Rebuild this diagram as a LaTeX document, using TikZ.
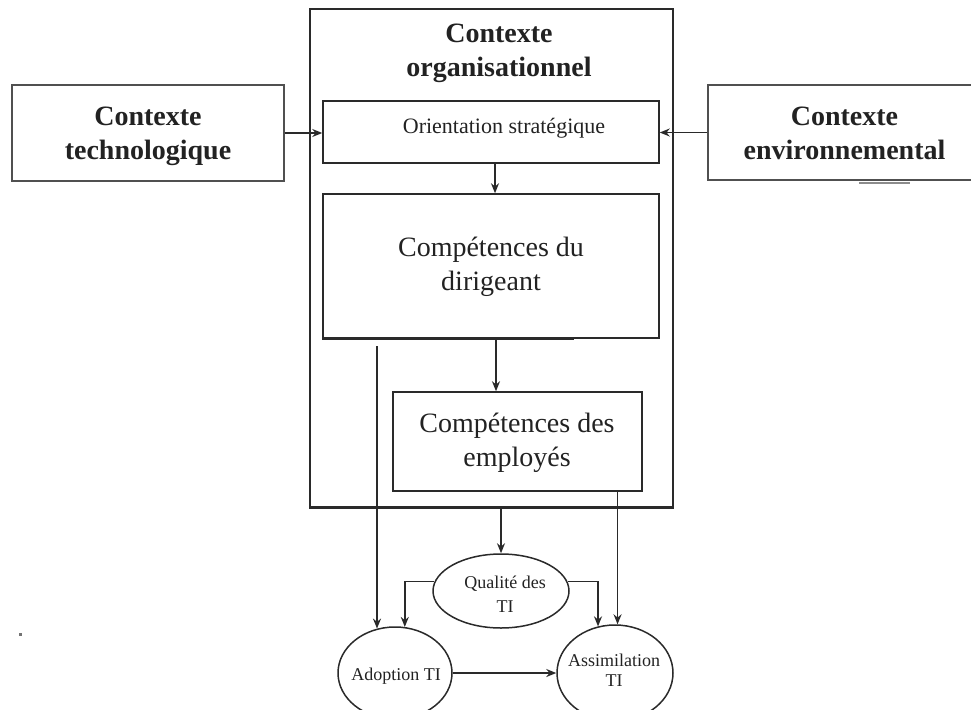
\documentclass[tikz,border=0pt]{standalone}
\usepackage{fontspec}
\setmainfont{Liberation Serif}
\usetikzlibrary{arrows.meta,shapes.geometric}
\definecolor{linec}{HTML}{2A2A2A}
\definecolor{softline}{HTML}{505050}
\definecolor{textc}{HTML}{222222}
\begin{document}
\begin{tikzpicture}[x=1pt,y=-1pt,
  frame/.style={draw=linec, line width=1.5pt, rectangle, inner sep=0pt},
  sideframe/.style={draw=softline, line width=1.4pt, rectangle, inner sep=0pt},
  oval/.style={draw=linec, line width=1.5pt, ellipse, inner sep=0pt},
  link/.style={draw=linec, line width=1.6pt},
  arr/.style={link, -{Stealth[length=10pt,width=8pt]}},
  ctxlabel/.style={font=\fontsize{28}{34}\selectfont\bfseries, align=center, text=textc, inner sep=0pt},
  boxlabel/.style={font=\fontsize{28}{34}\selectfont, align=center, text=textc, inner sep=0pt},
  smalllabel/.style={font=\fontsize{22}{26}\selectfont, align=center, text=textc, inner sep=0pt},
  ovallabel/.style={font=\fontsize{18}{22}\selectfont, align=center, text=textc, inner sep=0pt}]
\useasboundingbox (0,0) rectangle (971,709);
\clip (0,0) rectangle (971,709);

% outer frame of the organisational context
\node[frame, minimum width=363pt, minimum height=498pt] (org) at (491.5,258) {};
\node[ctxlabel] (orgtitle) at (499,53) {Contexte\\organisationnel};

% side contexts
\node[sideframe, minimum width=272pt, minimum height=96pt] (tech) at (148,133) {};
\node[ctxlabel] (techtxt) at (148,136) {Contexte\\technologique};
\node[sideframe, minimum width=273pt, minimum height=95pt] (env) at (844.5,132.5) {};
\node[ctxlabel] (envtxt) at (844.5,133) {Contexte\\environnemental};

% inner boxes
\node[frame, minimum width=336pt, minimum height=62pt] (orient) at (491,132) {};
\node[smalllabel] (orienttxt) at (504,128) {Orientation stratégique};
\node[frame, minimum width=336pt, minimum height=144pt] (dir) at (491,266) {};
\node[boxlabel] (dirtxt) at (491,267) {Compétences du\\dirigeant};
\node[frame, minimum width=249pt, minimum height=99pt] (emp) at (517.5,441.5) {};
\node[boxlabel] (emptxt) at (517,442.5) {Compétences des\\employés};

% heavier bottom edges
\draw[linec, line width=2.2pt] (org.south west) -- (org.south east);
\draw[linec, line width=2.1pt] (dir.south west) -- ([xshift=-86pt]dir.south east);

% outcome ellipses
\node[oval, minimum width=136pt, minimum height=74pt] (qual) at (501,591) {};
\node[ovallabel, font=\fontsize{18}{24}\selectfont] (qualtxt) at (505,594) {Qualité des\\TI};
\node[oval, minimum width=114pt, minimum height=92pt] (adop) at (395,673) {};
\node[ovallabel] (adoptxt) at (396,676) {Adoption TI};
\node[oval, minimum width=116pt, minimum height=96pt] (assim) at (615,673) {};
\node[ovallabel, font=\fontsize{18}{20}\selectfont] (assimtxt) at (614,670) {Assimilation\\TI};

% connectors
\coordinate (orientout) at ([xshift=4pt]orient.south);
\coordinate (dirout) at ([xshift=5pt]dir.south);
\coordinate (dirleg) at (377,346);
\draw[arr] (tech.east) -- (tech.east -| orient.west);
\draw[arr] (env.west) -- (env.west -| orient.east);
\draw[arr] (orientout) -- (orientout |- dir.north);
\draw[arr] (dirout) -- (dirout |- emp.north);
\draw[arr] (org.south -| qual.north) -- (qual.north);
\draw[arr] (dirleg) -- (dirleg |- adop.112);
\draw[arr] (emp.south -| assim.87) -- (assim.87);
\draw[arr] (qual.172) -| (adop.78);
\draw[arr] (qual.8) -| (assim.110);
\draw[arr] (adop.east) -- (assim.west);

% scan marks
\draw[black!45, line width=2pt] (859,182.5) -- (910,182.5);
\fill[black!55] (19,633) rectangle (21.5,635.5);
\end{tikzpicture}
\end{document}
